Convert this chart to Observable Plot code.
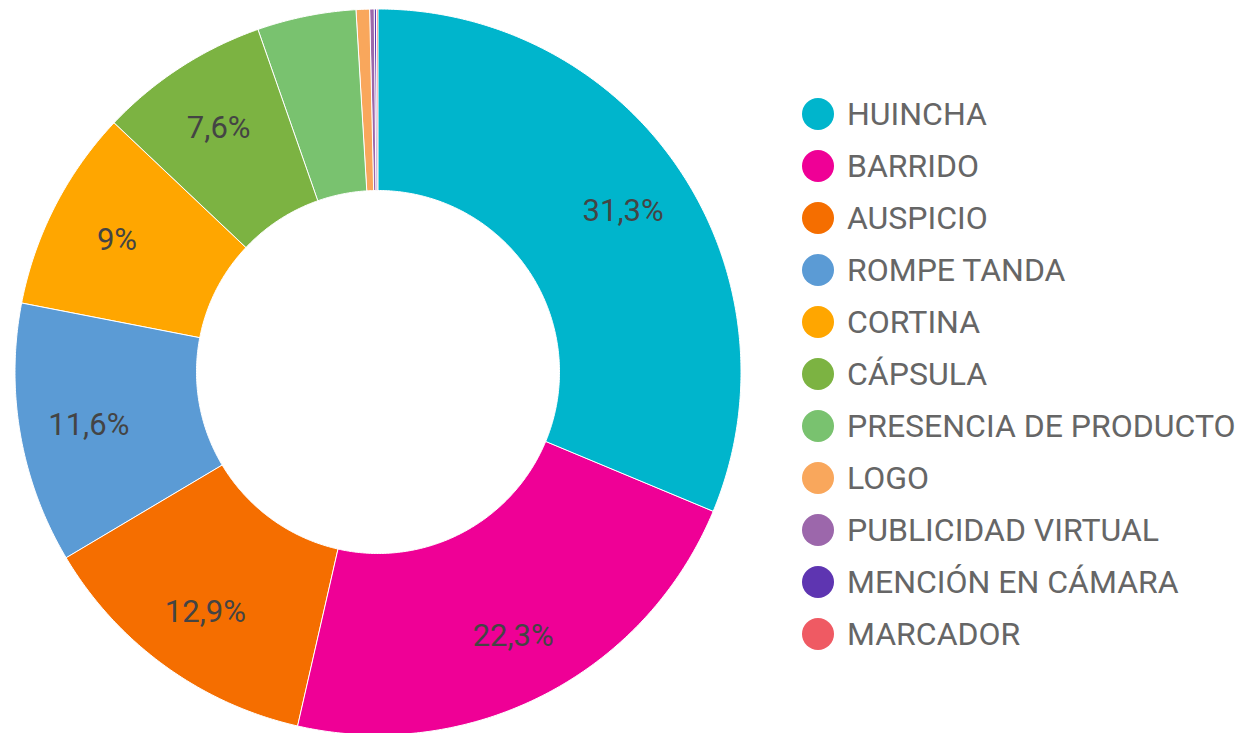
<!DOCTYPE html>
<html>
<head>
<meta charset="utf-8">
<script src="https://cdn.jsdelivr.net/npm/d3@7"></script>
<script src="https://cdn.jsdelivr.net/npm/@observablehq/plot@0.6"></script>
<style>
  html, body { margin: 0; padding: 0; background: #fff; }
  #wrap { position: relative; width: 1239px; height: 733px; overflow: hidden; }
  #legend { position: absolute; left: 802px; top: 88px; font-family: Roboto, sans-serif; }
  .row { display: flex; align-items: center; height: 52px; }
  .sw { width: 32px; height: 32px; border-radius: 50%; margin-right: 13px; flex: none; }
  .lb { font-size: 32px; color: #666; white-space: nowrap; line-height: 1; }
</style>
</head>
<body>
<div id="wrap"><div id="legend"></div></div>
<script>
const categories = ["HUINCHA", "BARRIDO", "AUSPICIO", "ROMPE TANDA", "CORTINA", "CÁPSULA", "PRESENCIA DE PRODUCTO", "LOGO", "PUBLICIDAD VIRTUAL", "MENCIÓN EN CÁMARA", "MARCADOR"];
const values = [31.3, 22.3, 12.9, 11.6, 9, 7.6, 4.4, 0.6, 0.2, 0.1, 0.05];
const colors = ["#00b5cc", "#ef0096", "#f56e00", "#5b9bd5", "#ffa600", "#7cb342", "#79c26f", "#f9a75c", "#9c67ab", "#5e35b1", "#ef5a63"];

const innerRatio = 0.5;
const labelRadius = 0.81;

const pie = d3.pie().sort(null).value(d => d.value)(categories.map((c, i) => ({cat: c, value: values[i]})));

const pts = [];
for (const s of pie) {
  const n = Math.max(2, Math.ceil((s.endAngle - s.startAngle) / (Math.PI / 360)));
  for (let k = 0; k <= n; k++) {
    const a = s.startAngle + (s.endAngle - s.startAngle) * k / n;
    pts.push({cat: s.data.cat, xo: Math.sin(a), yo: Math.cos(a), xi: innerRatio * Math.sin(a), yi: innerRatio * Math.cos(a)});
  }
}
const fmt = v => String(v).replace(".", ",") + "%";
const labelData = pie.filter(s => s.data.value >= 5).map(s => {
  const a = (s.startAngle + s.endAngle) / 2;
  return {x: labelRadius * Math.sin(a), y: labelRadius * Math.cos(a), text: fmt(s.data.value)};
});

const cx = 378, cy = 372, R = 363;
const chart = Plot.plot({
  width: 1239,
  height: 733,
  margin: 0,
  style: {background: "transparent", overflow: "visible"},
  x: {domain: [-1, 1], range: [cx - R, cx + R], axis: null},
  y: {domain: [-1, 1], range: [cy + R, cy - R], axis: null},
  color: {domain: categories, range: colors},
  marks: [
    Plot.area(pts, {x1: "xo", y1: "yo", x2: "xi", y2: "yi", z: "cat", fill: "cat", stroke: "white", strokeWidth: 1}),
    Plot.text(labelData, {x: "x", y: "y", text: "text", fill: "#444", fontSize: 31, fontFamily: "Roboto", textAnchor: "middle", lineAnchor: "middle", dy: 2})
  ]
});
chart.style.position = "absolute";
chart.style.left = "0";
chart.style.top = "0";
document.getElementById("wrap").prepend(chart);

const legend = document.getElementById("legend");
categories.forEach((c, i) => {
  const row = document.createElement("div");
  row.className = "row";
  const sw = document.createElement("div");
  sw.className = "sw";
  sw.style.background = colors[i];
  const lb = document.createElement("div");
  lb.className = "lb";
  lb.textContent = c;
  row.append(sw, lb);
  legend.append(row);
});
</script>
</body>
</html>
